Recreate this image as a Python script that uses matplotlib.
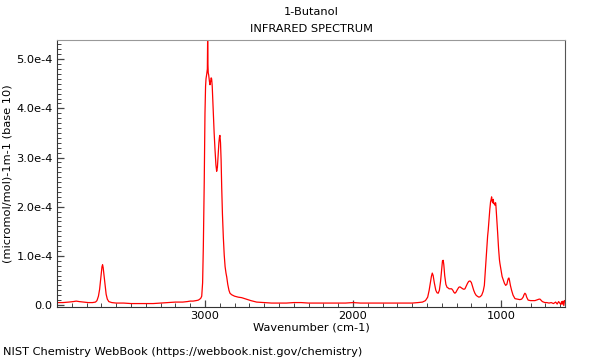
import matplotlib
matplotlib.use("Agg")
import matplotlib.pyplot as plt
from matplotlib.ticker import FixedLocator, MultipleLocator, FixedFormatter

# Wavenumber (cm-1) and absorbance (units of 1e-4)
wavenumber = [4000, 3960, 3920, 3890, 3870, 3850, 3820, 3790, 3760, 3740, 3730, 3720,
              3712, 3705, 3700, 3696, 3692, 3688, 3682, 3675, 3668, 3660, 3650, 3630,
              3600, 3550, 3500, 3450, 3400, 3350, 3300, 3250, 3200, 3150, 3120, 3100,
              3080, 3060, 3045, 3035, 3028, 3022, 3016, 3011, 3005, 3000, 2996, 2993,
              2988, 2984, 2982, 2980, 2978, 2975, 2970, 2966, 2962, 2958, 2955, 2951,
              2947, 2944, 2938, 2932, 2926, 2921, 2916, 2911, 2906, 2902, 2899, 2895,
              2891, 2887, 2882, 2876, 2870, 2864, 2858, 2853, 2846, 2838, 2831, 2820,
              2800, 2775, 2752, 2720, 2690, 2651, 2600, 2550, 2500, 2450, 2400, 2350,
              2300, 2250, 2200, 2150, 2100, 2050, 2000, 1950, 1900, 1850, 1800, 1750,
              1700, 1650, 1600, 1560, 1530, 1510, 1495, 1485, 1477, 1470, 1464, 1458,
              1450, 1440, 1432, 1424, 1416, 1408, 1400, 1395, 1390, 1386, 1380, 1372,
              1364, 1358, 1350, 1340, 1333, 1325, 1318, 1311, 1304, 1295, 1285, 1277,
              1268, 1258, 1250, 1243, 1235, 1226, 1218, 1209, 1200, 1192, 1184, 1176,
              1168, 1160, 1149, 1140, 1130, 1120, 1112, 1108, 1102, 1096, 1090, 1086,
              1080, 1075, 1070, 1066, 1063, 1060, 1056, 1052, 1048, 1045, 1040, 1036,
              1034, 1030, 1026, 1022, 1016, 1010, 1007, 1000, 992, 983, 976, 968,
              960, 954, 950, 946, 942, 936, 928, 918, 905, 890, 872, 860,
              850, 844, 838, 832, 826, 816, 800, 785, 770, 760, 750, 742,
              736, 730, 720, 712, 703, 690, 675, 660, 645, 630, 620, 610,
              600, 595, 590, 585, 580, 575, 570]
absorbance = [0.05, 0.05, 0.06, 0.07, 0.08, 0.07, 0.06, 0.05, 0.05, 0.06, 0.09, 0.18,
              0.32, 0.52, 0.68, 0.78, 0.82, 0.76, 0.60, 0.40, 0.22, 0.12, 0.07, 0.05,
              0.04, 0.04, 0.03, 0.03, 0.03, 0.03, 0.04, 0.05, 0.06, 0.06, 0.07, 0.08,
              0.08, 0.09, 0.10, 0.12, 0.14, 0.18, 0.45, 1.20, 2.50, 3.90, 4.45, 4.60,
              4.70, 4.80, 5.40, 4.90, 4.72, 4.68, 4.55, 4.48, 4.55, 4.62, 4.60, 4.45,
              4.15, 3.90, 3.50, 3.15, 2.85, 2.72, 2.80, 3.05, 3.30, 3.42, 3.45, 3.30,
              2.95, 2.40, 1.85, 1.38, 1.02, 0.78, 0.65, 0.57, 0.42, 0.30, 0.24, 0.21,
              0.18, 0.16, 0.15, 0.12, 0.09, 0.06, 0.05, 0.04, 0.04, 0.04, 0.05, 0.05,
              0.04, 0.04, 0.04, 0.04, 0.04, 0.04, 0.05, 0.04, 0.04, 0.04, 0.04, 0.04,
              0.04, 0.04, 0.04, 0.05, 0.06, 0.09, 0.16, 0.30, 0.45, 0.58, 0.65, 0.60,
              0.45, 0.30, 0.25, 0.24, 0.30, 0.48, 0.75, 0.90, 0.91, 0.82, 0.60, 0.42,
              0.36, 0.35, 0.33, 0.33, 0.33, 0.30, 0.26, 0.24, 0.26, 0.31, 0.36, 0.37,
              0.35, 0.33, 0.32, 0.33, 0.38, 0.44, 0.48, 0.49, 0.46, 0.38, 0.30, 0.24,
              0.20, 0.18, 0.16, 0.17, 0.20, 0.28, 0.40, 0.58, 0.85, 1.15, 1.40, 1.52,
              1.75, 1.95, 2.10, 2.15, 2.20, 2.12, 2.08, 2.15, 2.06, 2.07, 2.03, 2.08,
              2.03, 1.85, 1.65, 1.46, 1.15, 0.92, 0.85, 0.72, 0.58, 0.50, 0.44, 0.40,
              0.42, 0.50, 0.54, 0.55, 0.50, 0.40, 0.30, 0.20, 0.13, 0.12, 0.11, 0.12,
              0.16, 0.21, 0.24, 0.22, 0.16, 0.10, 0.09, 0.09, 0.09, 0.10, 0.11, 0.12,
              0.12, 0.10, 0.07, 0.06, 0.05, 0.05, 0.04, 0.05, 0.03, 0.06, 0.02, 0.07,
              0.03, 0.01, 0.07, 0.02, 0.08, -0.01, 0.09]

x_ticks = [3000, 2000, 1000]
x_ticklabels = ["3000", "2000", "1000"]
y_ticks = [0.0, 1.0e-4, 2.0e-4, 3.0e-4, 4.0e-4, 5.0e-4]
y_ticklabels = ["0.0", "1.0e-4", "2.0e-4", "3.0e-4", "4.0e-4", "5.0e-4"]

title_main = "1-Butanol"
title_sub = "INFRARED SPECTRUM"
x_label = "Wavenumber (cm-1)"
y_label = "(micromol/mol)-1m-1 (base 10)"
footer = "NIST Chemistry WebBook (https://webbook.nist.gov/chemistry)"

FS = 8.2
plt.rcParams['font.family'] = ['DejaVu Sans']
fig = plt.figure(figsize=(6, 3.6), dpi=100)
ax = fig.add_axes([57/600, 1 - 307/360, (565 - 57)/600, (307 - 40)/360])

y_vals = [a * 1e-4 for a in absorbance]
ax.plot(wavenumber, y_vals, color='red', linewidth=0.9)

ax.set_xlim(4000, 567)
ax.set_ylim(-0.04e-4, 5.39e-4)

ax.xaxis.set_major_locator(FixedLocator(x_ticks))
ax.xaxis.set_major_formatter(FixedFormatter(x_ticklabels))
ax.xaxis.set_minor_locator(MultipleLocator(100))
ax.yaxis.set_major_locator(FixedLocator(y_ticks))
ax.yaxis.set_major_formatter(FixedFormatter(y_ticklabels))
ax.yaxis.set_minor_locator(MultipleLocator(1e-5))

ax.tick_params(which='both', direction='in', colors='#444444', labelcolor='black',
               labelsize=FS, top=False, right=False, pad=3)
ax.tick_params(which='major', length=5, width=0.9)
ax.tick_params(which='minor', length=3, width=0.7)

ax.spines['top'].set_color('#999999')
ax.spines['right'].set_color('#555555')
ax.spines['left'].set_color('#333333')
ax.spines['bottom'].set_color('#333333')

ax.set_xlabel(x_label, fontsize=FS, labelpad=1)
ax.set_ylabel(y_label, fontsize=FS, labelpad=3)

fig.text(311/600, 1 - 12/360, title_main, ha='center', va='center', fontsize=FS)
fig.text(311/600, 1 - 29/360, title_sub, ha='center', va='center', fontsize=FS)
fig.text(3/600, 1 - 352/360, footer, ha='left', va='center', fontsize=FS)

fig.savefig('out.png', dpi=100)
